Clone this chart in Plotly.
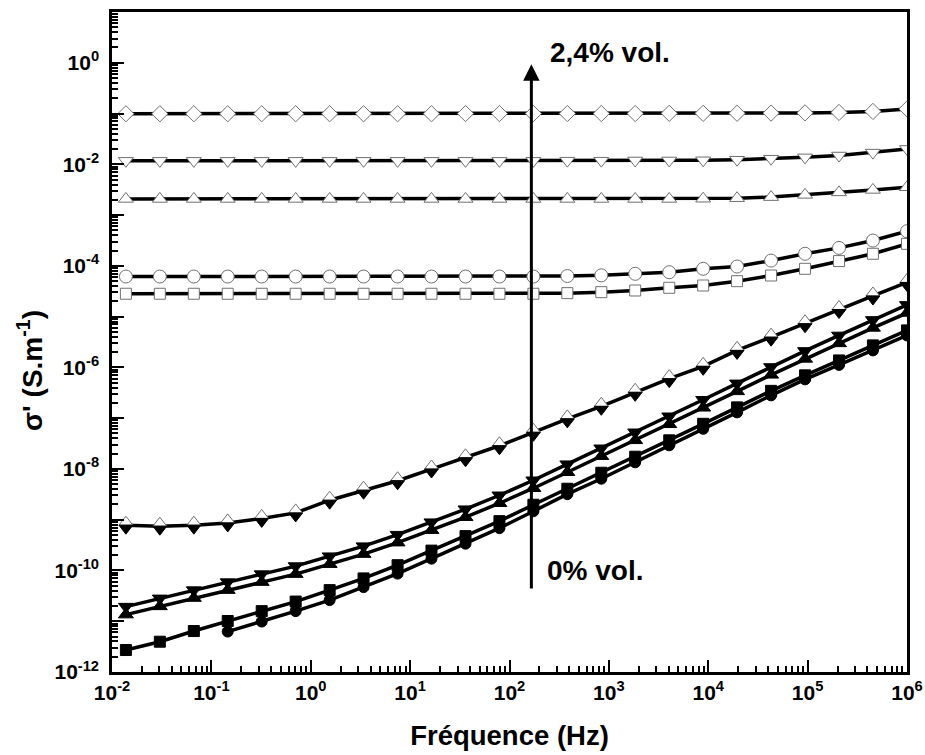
import math
import plotly.graph_objects as go

# Measurement frequencies (Hz)
FREQ = [0.0138, 0.0303, 0.0666, 0.146, 0.321, 0.705, 1.55, 3.40, 7.48, 16.4, 36.1, 79.2,
        174, 382, 839, 1840, 4050, 8890, 19500, 42900, 94200, 207000, 454000, 1000000]

# Real part of the conductivity sigma' (S/m), one list per composition
OPEN_DIAMOND = [0.099, 0.099, 0.099, 0.099, 0.099, 0.099, 0.099, 0.099, 0.099, 0.099, 0.100, 0.100,
                0.100, 0.100, 0.100, 0.100, 0.101, 0.101, 0.101, 0.102, 0.103, 0.105, 0.110, 0.123]
OPEN_TRI_DOWN = [0.0117, 0.0117, 0.0117, 0.0117, 0.0117, 0.0117, 0.0117, 0.0117, 0.0117, 0.0117, 0.0117, 0.0117,
                 0.0117, 0.0118, 0.0118, 0.0119, 0.0119, 0.0120, 0.0123, 0.0129, 0.0137, 0.0149, 0.0170, 0.0201]
OPEN_TRI_UP = [0.00208, 0.00208, 0.00208, 0.00208, 0.00208, 0.00208, 0.00208, 0.00208, 0.00208, 0.00208, 0.00208, 0.00208,
               0.00208, 0.00208, 0.00208, 0.00208, 0.00208, 0.00210, 0.00215, 0.00226, 0.00250, 0.00280, 0.00313, 0.00353]
OPEN_CIRCLE = [6.16e-5, 6.16e-5, 6.16e-5, 6.16e-5, 6.16e-5, 6.16e-5, 6.16e-5, 6.16e-5, 6.16e-5, 6.16e-5, 6.16e-5, 6.16e-5,
               6.16e-5, 6.30e-5, 6.50e-5, 6.97e-5, 7.50e-5, 8.75e-5, 9.70e-5, 1.27e-4, 1.73e-4, 2.26e-4, 3.15e-4, 4.81e-4]
OPEN_SQUARE = [2.82e-5, 2.82e-5, 2.82e-5, 2.82e-5, 2.82e-5, 2.82e-5, 2.82e-5, 2.82e-5, 2.82e-5, 2.82e-5, 2.82e-5, 2.82e-5,
               2.82e-5, 2.90e-5, 3.03e-5, 3.27e-5, 3.70e-5, 4.10e-5, 4.99e-5, 6.45e-5, 8.75e-5, 1.24e-4, 1.73e-4, 2.71e-4]
HALF_DIAMOND = [7.80e-10, 7.45e-10, 7.80e-10, 8.65e-10, 1.06e-9, 1.36e-9, 2.42e-9, 3.81e-9, 5.85e-9, 9.95e-9, 1.66e-8, 2.86e-8,
                5.27e-8, 9.70e-8, 1.71e-7, 3.23e-7, 6.00e-7, 1.05e-6, 2.16e-6, 3.94e-6, 7.24e-6, 1.38e-5, 2.55e-5, 4.71e-5]
FILLED_TRI_DOWN = [1.94e-11, 2.82e-11, 4.10e-11, 5.90e-11, 8.47e-11, 1.22e-10, 1.91e-10, 3.01e-10, 5.07e-10, 8.93e-10, 1.61e-9, 3.03e-9,
                   5.98e-9, 1.24e-8, 2.55e-8, 5.27e-8, 1.09e-7, 2.30e-7, 4.85e-7, 1.02e-6, 2.11e-6, 4.26e-6, 8.61e-6, 1.70e-5]
FILLED_TRI_UP = [1.35e-11, 1.96e-11, 2.86e-11, 4.10e-11, 5.90e-11, 8.47e-11, 1.33e-10, 2.10e-10, 3.53e-10, 6.22e-10, 1.12e-9, 2.11e-9,
                 4.17e-9, 8.61e-9, 1.78e-8, 3.66e-8, 7.57e-8, 1.60e-7, 3.37e-7, 7.13e-7, 1.47e-6, 2.97e-6, 5.99e-6, 1.18e-5]
FILLED_SQUARE = [2.71e-12, 3.95e-12, 6.41e-12, 1.01e-11, 1.58e-11, 2.44e-11, 4.10e-11, 6.97e-11, 1.27e-10, 2.46e-10, 4.74e-10, 9.35e-10,
                 1.97e-9, 4.07e-9, 8.41e-9, 1.74e-8, 3.66e-8, 7.74e-8, 1.63e-7, 3.45e-7, 6.97e-7, 1.37e-6, 2.71e-6, 5.35e-6]
# this composition was measured from 0.146 Hz upward
FILLED_CIRCLE_FREQ = FREQ[3:]
FILLED_CIRCLE = [6.26e-12, 9.86e-12, 1.58e-11, 2.61e-11, 4.70e-11, 8.67e-11, 1.71e-10, 3.37e-10, 6.81e-10, 1.47e-9, 3.18e-9,
                 6.41e-9, 1.35e-8, 2.92e-8, 6.17e-8, 1.30e-7, 2.81e-7, 5.81e-7, 1.12e-6, 2.16e-6, 4.26e-6]

X_EXP = [-2, -1, 0, 1, 2, 3, 4, 5, 6]
Y_EXP = [-12, -11, -10, -9, -8, -7, -6, -5, -4, -3, -2, -1, 0]

FONT = "Liberation Sans, Arial, sans-serif"
EDGE = "#707070"

fig = go.Figure()

# (symbol, fill, outline, size, angle, standoff)
series = [
    (FREQ, OPEN_DIAMOND, [("diamond", "white", EDGE, 12.5, 0, 0)]),
    (FREQ, OPEN_TRI_DOWN, [("triangle-down", "white", EDGE, 13, 0, 0)]),
    (FREQ, OPEN_TRI_UP, [("triangle-up", "white", EDGE, 13, 0, 0)]),
    (FREQ, OPEN_CIRCLE, [("circle", "white", EDGE, 13, 0, 0)]),
    (FREQ, OPEN_SQUARE, [("square", "white", EDGE, 11, 0, 0)]),
    # half-filled diamond: open upper half, black lower half
    (FREQ, HALF_DIAMOND, [("triangle-down", "white", EDGE, 12, 180, 3),
                          ("triangle-down", "black", "black", 12, 0, 3)]),
    (FREQ, FILLED_TRI_DOWN, [("triangle-down", "black", "black", 13, 0, 0)]),
    (FREQ, FILLED_TRI_UP, [("triangle-up", "black", "black", 13, 0, 0)]),
    (FREQ, FILLED_SQUARE, [("square", "black", "black", 11, 0, 0)]),
    (FILLED_CIRCLE_FREQ, FILLED_CIRCLE, [("circle", "black", "black", 11, 0, 0)]),
]

# connecting lines first, symbols on top
for f, s, _ in series:
    fig.add_trace(go.Scatter(x=f, y=s, mode="lines", line=dict(color="black", width=3.5),
                             hoverinfo="skip", showlegend=False))
for f, s, marks in series:
    for sym, fill, edge, size, ang, stand in marks:
        fig.add_trace(go.Scatter(
            x=f, y=s, mode="markers", showlegend=False,
            marker=dict(symbol=sym, color=fill, size=size, angle=ang, standoff=stand,
                        line=dict(color=edge, width=1)),
        ))

# arrow indicating increasing filler content
ARROW_F = 166
ARROW_FROM = 4.1e-11
ARROW_TO = 0.93
fig.add_annotation(x=math.log10(ARROW_F), y=math.log10(ARROW_TO),
                   ax=math.log10(ARROW_F), ay=math.log10(ARROW_FROM),
                   xref="x", yref="y", axref="x", ayref="y", text="", showarrow=True,
                   arrowhead=2, arrowsize=1.1, arrowwidth=3, arrowcolor="black")

label_font = dict(family=FONT, size=28, color="black", weight="bold")
fig.add_annotation(x=2.385, y=0.197, xref="x", yref="y", text="2,4% vol.", showarrow=False,
                   xanchor="left", yanchor="middle", font=label_font)
fig.add_annotation(x=2.355, y=-10.01, xref="x", yref="y", text="0% vol.", showarrow=False,
                   xanchor="left", yanchor="middle", font=label_font)

# y-axis title
fig.add_annotation(x=0, y=0.456, xref="paper", yref="paper", xshift=-82,
                   text="σ' (S.m<sup>-1</sup>)", textangle=-90, showarrow=False,
                   xanchor="center", yanchor="middle",
                   font=dict(family=FONT, size=28, color="black", weight="bold"))

tick_font = dict(family=FONT, size=21, color="black", weight="bold")
axis_common = dict(
    type="log", showgrid=False, zeroline=False, showline=True, linecolor="black", linewidth=2.5,
    mirror=True, ticks="inside", ticklen=12, tickwidth=2, tickcolor="black", tickfont=tick_font,
    tickmode="array", automargin=False,
    minor=dict(ticks="inside", ticklen=6, tickwidth=1.5, tickcolor="black", dtick="D1", showgrid=False),
)

fig.update_layout(
    width=925, height=755,
    margin=dict(l=112, r=18, t=12, b=83),
    paper_bgcolor="white", plot_bgcolor="white",
    font=dict(family=FONT, color="black"),
    xaxis=dict(axis_common, range=[-2, 6],
               tickvals=[10 ** e for e in X_EXP],
               ticktext=[f"10<sup>{e}</sup>" for e in X_EXP],
               title=dict(text="Fréquence (Hz)",
                          font=dict(family=FONT, size=27.5, color="black", weight="bold"),
                          standoff=23)),
    yaxis=dict(axis_common, range=[-12, 1], ticklabelstandoff=6,
               tickvals=[10 ** e for e in Y_EXP],
               ticktext=[f"10<sup>{e}</sup>" if e % 2 == 0 else "" for e in Y_EXP]),
)

fig.write_html("out.html")
